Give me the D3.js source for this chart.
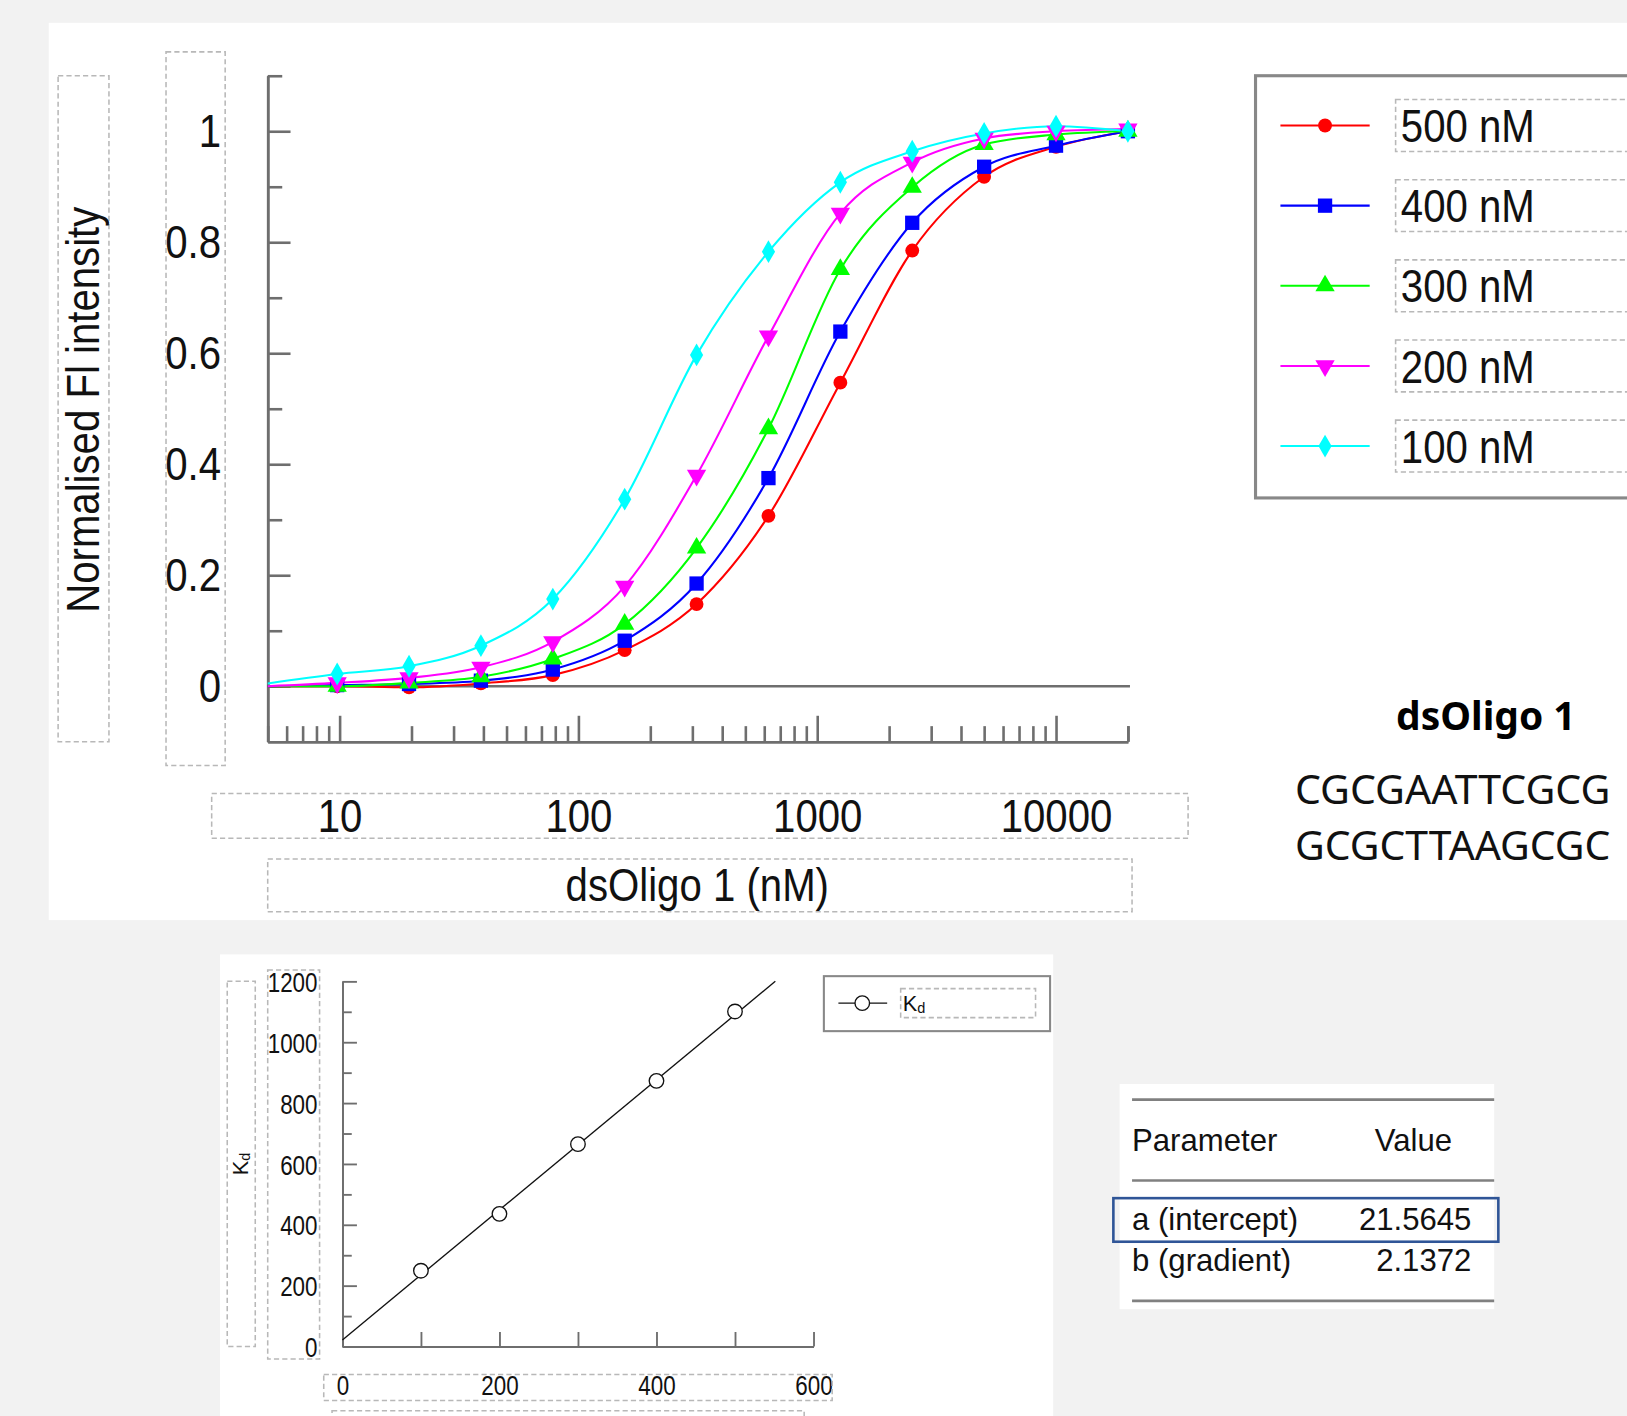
<!DOCTYPE html>
<html>
<head>
<meta charset="utf-8">
<script src="https://cdn.jsdelivr.net/npm/d3@7"></script>
<style>
    html, body { margin: 0; padding: 0; background: #f2f2f2; }
    svg { display: block; }
</style>
</head>
<body>
<svg id="chart" width="1627" height="1416" viewBox="0 0 1568 1365" preserveAspectRatio="none"></svg>
<script>
// Titration data (normalised Fl intensity vs dsOligo 1 concentration)
const concentrations = [9.77, 19.53, 39.06, 78.13, 156.25, 312.5, 625, 1250, 2500, 5000, 10000, 20000];
const seriesNames = ['500 nM', '400 nM', '300 nM', '200 nM', '100 nM'];
const fi500 = [0.0, -0.002, 0.005, 0.02, 0.065, 0.148, 0.307, 0.547, 0.785, 0.918, 0.972, 1.0];
const fi400 = [0.002, 0.004, 0.01, 0.03, 0.082, 0.185, 0.375, 0.639, 0.835, 0.936, 0.974, 1.0];
const fi300 = [0.0, 0.006, 0.017, 0.049, 0.112, 0.249, 0.464, 0.751, 0.899, 0.976, 0.994, 1.0];
const fi200 = [0.006, 0.015, 0.034, 0.08, 0.18, 0.38, 0.631, 0.852, 0.944, 0.987, 1.0, 1.004];
const fi100 = [0.022, 0.036, 0.073, 0.157, 0.337, 0.597, 0.783, 0.908, 0.964, 0.996, 1.009, 1.0];
const curveStart = [0, 0, 0, 0, 0.005];

// Kd vs probe concentration
const probeConc = [100, 200, 300, 400, 500];
const kdValues = [249, 436, 665, 873, 1101];
const paramNames = ['a (intercept)', 'b (gradient)'];
const paramValues = [21.5645, 2.1372];

const colors = ['#ff0000', '#0000ff', '#00ff00', '#ff00ff', '#00ffff'];
const symbols = [d3.symbolCircle, d3.symbolSquare, d3.symbolTriangle, d3.symbolTriangle, d3.symbolDiamond];
const symbolSizes = [140, 190, 150, 150, 140];
const symbolRotate = [0, 0, 0, 180, 0];

const axisColor = '#6e6e6e';
const dashColor = '#b8b8b8';
const font = '"Liberation Sans", Arial, sans-serif';

const svg = d3.select('#chart');

// squeeze text horizontally, keeping its anchor position
function squeeze(sel, sx) {
    sel.each(function() {
        const t = d3.select(this);
        const x = +t.attr('x') || 0;
        t.attr('x', x / sx).attr('transform', 'scale(' + sx + ',1)');
    });
}

function dashBox(x, y, w, h) {
    svg.append('rect')
        .attr('x', x).attr('y', y).attr('width', w).attr('height', h)
        .attr('fill', 'none')
        .attr('stroke', dashColor)
        .attr('stroke-width', 1.5)
        .attr('stroke-dasharray', '5,3');
}

// Panels
svg.append('rect').attr('width', 1568).attr('height', 1365).attr('fill', '#f2f2f2');
svg.append('rect').attr('x', 47).attr('y', 22).attr('width', 1530).attr('height', 865).attr('fill', '#fff');
svg.append('rect').attr('x', 212).attr('y', 920).attr('width', 803).attr('height', 450).attr('fill', '#fff');
svg.append('rect').attr('x', 1079).attr('y', 1045).attr('width', 361).attr('height', 217).attr('fill', '#fff');

// ---------- Top chart ----------
const x = d3.scaleLog().domain([5, 20000]).range([258, 1087]);
const y = d3.scaleLinear().domain([-0.1, 1.1]).range([715, 73]);

const bigFont = 44;
const sq = 0.88;

// Y axis (majors with labels, minors)
const yMajor = svg.append('g')
    .attr('transform', 'translate(258,0)')
    .call(d3.axisLeft(y).tickValues([0, 0.2, 0.4, 0.6, 0.8, 1]).tickSize(-22).tickSizeOuter(0).tickPadding(45)
        .tickFormat(d => d === 1 ? '1' : d === 0 ? '0' : d3.format('.1f')(d)));
const yMinor = svg.append('g')
    .attr('transform', 'translate(258,0)')
    .call(d3.axisLeft(y).tickValues([0.1, 0.3, 0.5, 0.7, 0.9, 1.1]).tickSize(-14).tickSizeOuter(0).tickFormat(''));

// X axis (log)
const minorX = [];
[1, 10, 100, 1000, 10000].forEach(dec => {
    for (let k = 2; k <= 9; k++) {
        const v = dec * k;
        if (v >= 5 && v <= 20000 && v !== 10 && v !== 100 && v !== 1000 && v !== 10000) minorX.push(v);
    }
});
minorX.push(20000);
const xMajor = svg.append('g')
    .attr('transform', 'translate(0,715)')
    .call(d3.axisBottom(x).tickValues([10, 100, 1000, 10000]).tickSize(-25).tickSizeOuter(0).tickPadding(60)
        .tickFormat(d3.format('d')));
const xMinor = svg.append('g')
    .attr('transform', 'translate(0,715)')
    .call(d3.axisBottom(x).tickValues(minorX).tickSize(-15).tickSizeOuter(0).tickFormat(''));

[yMajor, yMinor, xMajor, xMinor].forEach(g => {
    g.selectAll('path, line').attr('stroke', axisColor).attr('stroke-width', 2.5);
    g.selectAll('text').attr('fill', '#111').attr('font-family', font).attr('font-size', bigFont);
});
yMajor.selectAll('text').attr('dy', '0.34em');
squeeze(yMajor.selectAll('text'), sq);
squeeze(xMajor.selectAll('text'), sq);
xMajor.selectAll('text').attr('dy', '0.62em');

// Zero line
svg.append('line')
    .attr('x1', 258).attr('x2', 1089)
    .attr('y1', y(0)).attr('y2', y(0))
    .attr('stroke', axisColor).attr('stroke-width', 2.5);

// Dashed label boxes
dashBox(56, 73, 49, 642);
dashBox(160, 50, 57, 688);
dashBox(204, 765, 941, 43);
dashBox(258, 828, 833, 51);

// Axis titles
svg.append('text')
    .attr('transform', 'translate(95,395) rotate(-90) scale(' + sq + ',1)')
    .attr('text-anchor', 'middle')
    .attr('font-family', font).attr('font-size', bigFont).attr('fill', '#111')
    .text('Normalised Fl intensity');
svg.append('text')
    .attr('x', 672).attr('y', 869)
    .attr('text-anchor', 'middle')
    .attr('font-family', font).attr('font-size', bigFont).attr('fill', '#111')
    .call(squeeze, sq)
    .text('dsOligo 1 (nM)');

// Curves + markers
const allSeries = [fi500, fi400, fi300, fi200, fi100];
const line = d3.line()
    .x(d => x(d[0]))
    .y(d => y(d[1]))
    .curve(d3.curveMonotoneX);

allSeries.forEach((vals, i) => {
    const pts = [[5, curveStart[i]]].concat(concentrations.map((c, j) => [c, vals[j]]));
    svg.append('path')
        .datum(pts)
        .attr('d', line)
        .attr('fill', 'none')
        .attr('stroke', colors[i])
        .attr('stroke-width', 2);
});
allSeries.forEach((vals, i) => {
    svg.append('g')
        .selectAll('path')
        .data(concentrations.map((c, j) => [c, vals[j]]))
        .join('path')
        .attr('d', d3.symbol().type(symbols[i]).size(symbolSizes[i]))
        .attr('transform', d => 'translate(' + x(d[0]) + ',' + y(d[1]) + ') rotate(' + symbolRotate[i] + ')')
        .attr('fill', colors[i]);
});

// Legend
svg.append('rect')
    .attr('x', 1210).attr('y', 73).attr('width', 400).attr('height', 407)
    .attr('fill', '#fff').attr('stroke', '#888').attr('stroke-width', 3);
const legendY = d3.scalePoint().domain(seriesNames).range([121, 430]);
seriesNames.forEach((name, i) => {
    const ly = legendY(name);
    svg.append('line')
        .attr('x1', 1234).attr('x2', 1320).attr('y1', ly).attr('y2', ly)
        .attr('stroke', colors[i]).attr('stroke-width', 2);
    svg.append('path')
        .attr('d', d3.symbol().type(symbols[i]).size(symbolSizes[i])())
        .attr('transform', 'translate(1277,' + ly + ') rotate(' + symbolRotate[i] + ')')
        .attr('fill', colors[i]);
    dashBox(1345, ly - 25, 260, 50);
    svg.append('text')
        .attr('x', 1350).attr('y', ly + 16)
        .attr('font-family', font).attr('font-size', bigFont).attr('fill', '#111')
        .call(squeeze, sq)
        .text(name);
});

// Oligo label
svg.append('text')
    .attr('x', 1432).attr('y', 704)
    .attr('text-anchor', 'middle')
    .attr('font-family', '"Noto Sans", "Open Sans", sans-serif').attr('font-weight', 'bold')
    .attr('font-size', 38).attr('fill', '#000')
    .attr('textLength', 173).attr('lengthAdjust', 'spacingAndGlyphs')
    .text('dsOligo 1');
['CGCGAATTCGCG', 'GCGCTTAAGCGC'].forEach((s, i) => {
    svg.append('text')
        .attr('x', 1248).attr('y', 775 + i * 54)
        .attr('font-family', '"Noto Sans", "Open Sans", sans-serif')
        .attr('font-size', 38).attr('fill', '#111')
        .attr('textLength', 304).attr('lengthAdjust', 'spacingAndGlyphs')
        .text(s);
});

// ---------- Bottom chart (Kd vs concentration) ----------
const bx = d3.scaleLinear().domain([0, 600]).range([330, 784]);
const by = d3.scaleLinear().domain([0, 1200]).range([1298, 946]);
const smallFont = 27;
const sq2 = 0.8;

const byMajor = svg.append('g')
    .attr('transform', 'translate(330,0)')
    .call(d3.axisLeft(by).tickValues(d3.range(0, 1201, 200)).tickSize(-14).tickSizeOuter(0).tickPadding(24)
        .tickFormat(d3.format('d')));
const byMinor = svg.append('g')
    .attr('transform', 'translate(330,0)')
    .call(d3.axisLeft(by).tickValues(d3.range(100, 1200, 200)).tickSize(-9).tickSizeOuter(0).tickFormat(''));
const bxAxis = svg.append('g')
    .attr('transform', 'translate(0,1298)')
    .call(d3.axisBottom(bx).tickValues(d3.range(0, 601, 100)).tickSize(-14).tickSizeOuter(0).tickPadding(30)
        .tickFormat(d => d % 200 === 0 ? d : ''));

[byMajor, byMinor, bxAxis].forEach(g => {
    g.selectAll('path, line').attr('stroke', axisColor).attr('stroke-width', 1.8);
    g.selectAll('text').attr('fill', '#111').attr('font-family', font).attr('font-size', smallFont);
});
byMajor.selectAll('text').attr('dy', '0.36em');
squeeze(byMajor.selectAll('text'), sq2);
squeeze(bxAxis.selectAll('text'), sq2);
bxAxis.selectAll('text').attr('dy', '0.62em');

dashBox(219, 946, 27, 352);
dashBox(258, 935, 50, 375);
dashBox(312, 1325, 490, 25);
dashBox(320, 1360, 455, 30);

// Kd title
const kdTitle = svg.append('text')
    .attr('transform', 'translate(239,1122) rotate(-90)')
    .attr('text-anchor', 'middle')
    .attr('font-family', font).attr('font-size', 21).attr('fill', '#111');
kdTitle.append('tspan').text('K');
kdTitle.append('tspan').attr('font-size', 14).attr('dy', 2).text('d');

// Fit line from table parameters, clipped at the top of the axis
const fitEnd = (1200 - paramValues[0]) / paramValues[1];
svg.append('line')
    .attr('x1', bx(0)).attr('y1', by(paramValues[0]))
    .attr('x2', bx(fitEnd)).attr('y2', by(paramValues[0] + paramValues[1] * fitEnd))
    .attr('stroke', '#111').attr('stroke-width', 1.3);

svg.append('g')
    .selectAll('circle')
    .data(probeConc.map((c, i) => [c, kdValues[i]]))
    .join('circle')
    .attr('cx', d => bx(d[0]))
    .attr('cy', d => by(d[1]))
    .attr('r', 7)
    .attr('fill', '#fff')
    .attr('stroke', '#111')
    .attr('stroke-width', 1.3);

// Kd legend
svg.append('rect')
    .attr('x', 794).attr('y', 941).attr('width', 218).attr('height', 53)
    .attr('fill', '#fff').attr('stroke', '#888').attr('stroke-width', 2);
svg.append('line')
    .attr('x1', 808).attr('x2', 855).attr('y1', 967).attr('y2', 967)
    .attr('stroke', '#111').attr('stroke-width', 1.3);
svg.append('circle')
    .attr('cx', 831).attr('cy', 967).attr('r', 7)
    .attr('fill', '#fff').attr('stroke', '#111').attr('stroke-width', 1.3);
dashBox(868, 953, 130, 28);
const kdLegend = svg.append('text')
    .attr('x', 870).attr('y', 975)
    .attr('font-family', font).attr('font-size', 21).attr('fill', '#111');
kdLegend.append('tspan').text('K');
kdLegend.append('tspan').attr('font-size', 14).attr('dy', 2).text('d');

// ---------- Parameter table ----------
[1060, 1138, 1254].forEach(ry => {
    svg.append('line')
        .attr('x1', 1091).attr('x2', 1440).attr('y1', ry).attr('y2', ry)
        .attr('stroke', '#808080').attr('stroke-width', 2.5);
});
const tableFont = 30;
svg.append('text').attr('x', 1091).attr('y', 1110)
    .attr('font-family', font).attr('font-size', tableFont).attr('fill', '#111').text('Parameter');
svg.append('text').attr('x', 1325).attr('y', 1110)
    .attr('font-family', font).attr('font-size', tableFont).attr('fill', '#111').text('Value');
paramNames.forEach((p, i) => {
    const ry = 1186 + i * 39;
    svg.append('text').attr('x', 1091).attr('y', ry)
        .attr('font-family', font).attr('font-size', tableFont).attr('fill', '#111').text(p);
    svg.append('text').attr('x', 1418).attr('y', ry)
        .attr('text-anchor', 'end')
        .attr('font-family', font).attr('font-size', tableFont).attr('fill', '#111')
        .text(d3.format('.4f')(paramValues[i]));
});
svg.append('rect')
    .attr('x', 1073).attr('y', 1155).attr('width', 371).attr('height', 42)
    .attr('fill', 'none').attr('stroke', '#2f5597').attr('stroke-width', 2.5);
</script>
</body>
</html>
